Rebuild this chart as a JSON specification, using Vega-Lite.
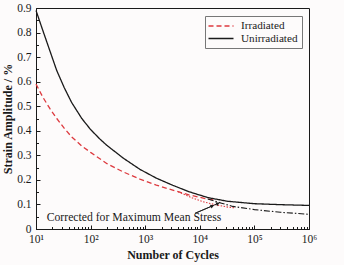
{
  "$schema": "https://vega.github.io/schema/vega-lite/v6.json",
  "width": 273,
  "height": 221,
  "autosize": {"type": "none"},
  "padding": {"left": 36, "top": 8, "right": 35, "bottom": 36},
  "background": "#fdfbfb",
  "config": {
    "font": "Liberation Serif",
    "view": {"stroke": "#1a1a1a", "strokeWidth": 1},
    "axis": {
      "domainColor": "#1a1a1a",
      "tickColor": "#1a1a1a",
      "labelColor": "#1a1a1a",
      "titleColor": "#1a1a1a",
      "labelFont": "Liberation Serif",
      "titleFont": "Liberation Serif",
      "labelFontSize": 11.5,
      "titleFontSize": 12,
      "titleFontWeight": "bold",
      "grid": false,
      "labelFlush": false,
      "labelOverlap": false
    },
    "legend": {
      "labelFont": "Liberation Serif",
      "labelFontSize": 11.2,
      "labelColor": "#1a1a1a"
    }
  },
  "datasets": {
    "curves": [
      {"series": "Irradiated", "N": 10, "strain": 0.59},
      {"series": "Irradiated", "N": 13.5, "strain": 0.535},
      {"series": "Irradiated", "N": 18, "strain": 0.49},
      {"series": "Irradiated", "N": 24, "strain": 0.45},
      {"series": "Irradiated", "N": 33, "strain": 0.41},
      {"series": "Irradiated", "N": 45, "strain": 0.375},
      {"series": "Irradiated", "N": 69, "strain": 0.338},
      {"series": "Irradiated", "N": 100, "strain": 0.312},
      {"series": "Irradiated", "N": 200, "strain": 0.266},
      {"series": "Irradiated", "N": 400, "strain": 0.232},
      {"series": "Irradiated", "N": 800, "strain": 0.203},
      {"series": "Irradiated", "N": 1600, "strain": 0.179},
      {"series": "Irradiated", "N": 3200, "strain": 0.158},
      {"series": "Irradiated", "N": 6300, "strain": 0.139},
      {"series": "Irradiated", "N": 12000, "strain": 0.125},
      {"series": "Irradiated", "N": 20000, "strain": 0.116},
      {"series": "Unirradiated", "N": 10, "strain": 0.89},
      {"series": "Unirradiated", "N": 13.5, "strain": 0.805},
      {"series": "Unirradiated", "N": 18, "strain": 0.725},
      {"series": "Unirradiated", "N": 24, "strain": 0.645},
      {"series": "Unirradiated", "N": 33, "strain": 0.575},
      {"series": "Unirradiated", "N": 45, "strain": 0.515},
      {"series": "Unirradiated", "N": 69, "strain": 0.45},
      {"series": "Unirradiated", "N": 100, "strain": 0.405},
      {"series": "Unirradiated", "N": 150, "strain": 0.365},
      {"series": "Unirradiated", "N": 200, "strain": 0.34},
      {"series": "Unirradiated", "N": 400, "strain": 0.288},
      {"series": "Unirradiated", "N": 800, "strain": 0.243},
      {"series": "Unirradiated", "N": 1600, "strain": 0.207},
      {"series": "Unirradiated", "N": 3200, "strain": 0.178},
      {"series": "Unirradiated", "N": 6300, "strain": 0.152},
      {"series": "Unirradiated", "N": 14000, "strain": 0.128},
      {"series": "Unirradiated", "N": 32000, "strain": 0.113},
      {"series": "Unirradiated", "N": 100000, "strain": 0.103},
      {"series": "Unirradiated", "N": 316000, "strain": 0.099},
      {"series": "Unirradiated", "N": 1000000, "strain": 0.096}
    ],
    "irrCorr": [
      {"N": 4000, "strain": 0.152},
      {"N": 7000, "strain": 0.128},
      {"N": 12000, "strain": 0.11},
      {"N": 20000, "strain": 0.098},
      {"N": 33000, "strain": 0.089},
      {"N": 45000, "strain": 0.086}
    ],
    "unirrCorr": [
      {"N": 14000, "strain": 0.122},
      {"N": 25000, "strain": 0.105},
      {"N": 40000, "strain": 0.092},
      {"N": 100000, "strain": 0.079},
      {"N": 300000, "strain": 0.068},
      {"N": 1000000, "strain": 0.06}
    ],
    "arrows": [
      {"N": 8200, "strain": 0.064, "N2": 21500, "strain2": 0.104},
      {"N": 8200, "strain": 0.064, "N2": 17000, "strain2": 0.094}
    ],
    "note": [
      {"N": 624, "strain": 0.049, "label": "Corrected for Maximum Mean Stress"}
    ]
  },
  "encoding": {
    "x": {
      "field": "N",
      "type": "quantitative",
      "scale": {"type": "log", "domain": [10, 1000000]},
      "axis": {
        "title": "Number of Cycles",
        "values": [10, 20, 30, 40, 50, 60, 70, 80, 90, 100, 200, 300, 400, 500, 600, 700, 800, 900, 1000, 2000, 3000, 4000, 5000, 6000, 7000, 8000, 9000, 10000, 20000, 30000, 40000, 50000, 60000, 70000, 80000, 90000, 100000, 200000, 300000, 400000, 500000, 600000, 700000, 800000, 900000, 1000000],
        "labelExpr": "datum.value == 10 ? '10¹' : datum.value == 100 ? '10²' : datum.value == 1000 ? '10³' : datum.value == 10000 ? '10⁴' : datum.value == 100000 ? '10⁵' : datum.value == 1000000 ? '10⁶' : ''",
        "tickSize": {"condition": {"test": "indexof([10,100,1000,10000,100000,1000000], datum.value) >= 0", "value": -4}, "value": -2.5},
        "labelPadding": 8,
        "titlePadding": 3
      }
    },
    "y": {
      "field": "strain",
      "type": "quantitative",
      "scale": {"domain": [0, 0.9], "nice": false},
      "axis": {
        "title": "Strain Amplitude / %",
        "values": [0, 0.05, 0.1, 0.15, 0.2, 0.25, 0.3, 0.35, 0.4, 0.45, 0.5, 0.55, 0.6, 0.65, 0.7, 0.75, 0.8, 0.85, 0.9],
        "labelExpr": "abs(datum.value*10 - round(datum.value*10)) < 0.001 ? (datum.value == 0 ? '0' : format(datum.value, '.1f')) : ''",
        "tickSize": {"condition": {"test": "abs(datum.value*10 - round(datum.value*10)) < 0.001", "value": -4}, "value": -2.5},
        "labelPadding": 9,
        "titlePadding": 2
      }
    }
  },
  "layer": [
    {
      "data": {"name": "curves"},
      "mark": {"type": "line", "strokeWidth": 1.3},
      "encoding": {
        "color": {
          "field": "series",
          "type": "nominal",
          "scale": {"domain": ["Irradiated", "Unirradiated"], "range": ["#dd3a3f", "#1a1a1a"]},
          "legend": {"title": null, "orient": "none", "legendX": 169, "legendY": 8, "strokeColor": "#777", "padding": 4, "symbolType": "M-2.5,0H2.5", "symbolSize": 100, "symbolOffset": 6, "labelOffset": 14, "symbolStrokeWidth": 1.3, "rowPadding": 0.5}
        },
        "strokeDash": {
          "field": "series",
          "type": "nominal",
          "scale": {"domain": ["Irradiated", "Unirradiated"], "range": [[5, 3], [1, 0]]},
          "legend": {"title": null, "orient": "none", "legendX": 169, "legendY": 8, "strokeColor": "#777", "padding": 4, "symbolType": "M-2.5,0H2.5", "symbolSize": 100, "symbolOffset": 6, "labelOffset": 14, "symbolStrokeWidth": 1.3, "rowPadding": 0.5}
        }
      }
    },
    {
      "data": {"name": "irrCorr"},
      "mark": {"type": "line", "strokeWidth": 1.1, "color": "#dd3a3f", "strokeDash": [1.5, 1.5]},
      "encoding": {}
    },
    {
      "data": {"name": "unirrCorr"},
      "mark": {"type": "line", "strokeWidth": 1.1, "color": "#1a1a1a", "strokeDash": [6, 2, 1.5, 2]},
      "encoding": {}
    },
    {
      "data": {"name": "arrows"},
      "mark": {"type": "rule", "strokeWidth": 0.9, "color": "#1a1a1a"},
      "encoding": {
        "x2": {"field": "N2"},
        "y2": {"field": "strain2"}
      }
    },
    {
      "data": {"name": "arrows"},
      "mark": {"type": "point", "shape": "triangle-up", "filled": true, "size": 18, "angle": 66, "color": "#1a1a1a", "opacity": 1},
      "encoding": {
        "x": {"field": "N2", "type": "quantitative"},
        "y": {"field": "strain2", "type": "quantitative"}
      }
    },
    {
      "data": {"name": "note"},
      "mark": {"type": "text", "font": "Liberation Serif", "fontSize": 11.7, "color": "#1a1a1a", "align": "center", "baseline": "middle"},
      "encoding": {
        "text": {"field": "label"}
      }
    }
  ]
}
